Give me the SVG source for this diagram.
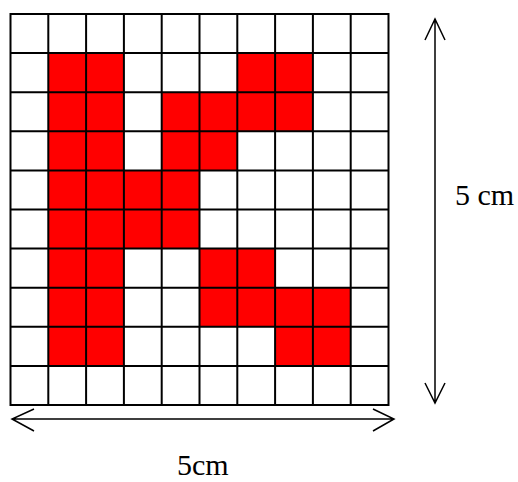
<svg xmlns="http://www.w3.org/2000/svg" width="518" height="482" viewBox="0 0 518 482">
<style>
.r{fill:#ff0000}
.g{stroke:#000;stroke-width:2;fill:none}
.a{stroke:#000;stroke-width:1.5;fill:none}
.t{font-family:"Liberation Serif",serif;font-size:30px;fill:#000}
</style>
<rect width="518" height="482" fill="#fff"/>
<g id="red-cells">
<rect class="r" x="48.3" y="53.1" width="75.6" height="39.1"/>
<rect class="r" x="237" y="53.1" width="75.6" height="39.1"/>
<rect class="r" x="48.3" y="92.2" width="75.6" height="39.1"/>
<rect class="r" x="161.7" y="92.2" width="151.2" height="39.1"/>
<rect class="r" x="48.3" y="131.3" width="75.6" height="39.1"/>
<rect class="r" x="161.7" y="131.3" width="75.6" height="39.1"/>
<rect class="r" x="48.3" y="170.4" width="151.2" height="78.2"/>
<rect class="r" x="48.3" y="248.6" width="75.6" height="117.3"/>
<rect class="r" x="199.5" y="248.6" width="75.6" height="39.1"/>
<rect class="r" x="199.5" y="287.7" width="151.2" height="39.1"/>
<rect class="r" x="275" y="326.8" width="75.6" height="39.1"/>
</g>
<g id="grid" class="g">
<rect x="10.5" y="14" width="378" height="391"/>
<path d="M48.3 14V405M86.1 14V405M123.9 14V405M161.7 14V405M199.5 14V405M237.3 14V405M275.1 14V405M312.9 14V405M350.7 14V405"/>
<path d="M10.5 53.1H388.5M10.5 92.2H388.5M10.5 131.3H388.5M10.5 170.4H388.5M10.5 209.5H388.5M10.5 248.6H388.5M10.5 287.7H388.5M10.5 326.8H388.5M10.5 365.9H388.5"/>
</g>
<g id="connectors" class="a">
<path d="M435 19V403M425 40L435 19L445 40M425 383L435 403L445 383"/>
<path d="M12 419H394M34 409L12 419L34 431M373 409L394 419L373 431"/>
</g>
<text class="t" x="455" y="205">5 cm</text>
<text class="t" x="177" y="475">5cm</text>
</svg>
